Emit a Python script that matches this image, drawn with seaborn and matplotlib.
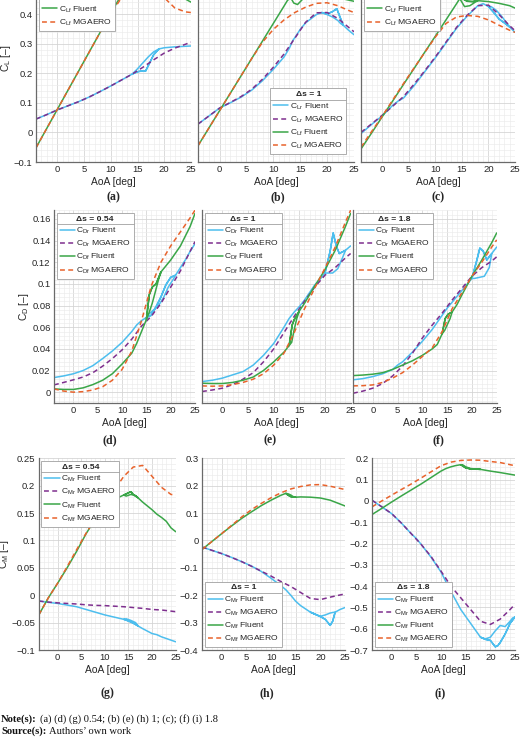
import numpy as np
import pandas as pd
import matplotlib
matplotlib.use("Agg")
import matplotlib.pyplot as plt
import seaborn as sns
from matplotlib.lines import Line2D
from matplotlib.ticker import MultipleLocator, FuncFormatter

# ---------------- data ----------------
aoa = [-4, -2, 0, 2, 4, 6, 8, 10, 12, 14, 16, 18, 20, 22, 24, 25]

# (a) CL, ds = 0.54
a_rM = [0.045, 0.060, 0.076, 0.090, 0.104, 0.120, 0.138, 0.157, 0.177, 0.197, 0.220, 0.245, 0.268, 0.285, 0.298, 0.305]
a_fM = [-0.052, 0.013, 0.078, 0.143, 0.208, 0.273, 0.338, 0.400, 0.455, 0.500, 0.520, 0.500, 0.455, 0.420, 0.407, 0.405]
a_fF = [-0.052, 0.013, 0.078, 0.143, 0.208, 0.273, 0.338, 0.403, 0.465, 0.510, 0.530, 0.520, 0.500, 0.475, 0.450, 0.440]
a_rF_x = [-4, -2, 0, 2, 4, 6, 8, 10, 12, 14, 15, 16, 16.5, 17, 18, 19, 20, 22, 24, 25]
a_rF_y = [0.045, 0.060, 0.076, 0.090, 0.104, 0.120, 0.138, 0.157, 0.177, 0.197, 0.205, 0.208, 0.207, 0.225, 0.262, 0.282, 0.286, 0.289, 0.291, 0.292]
a_rF_bx = [18, 17, 16, 15]
a_rF_by = [0.272, 0.255, 0.235, 0.215]

# (b) CL, ds = 1
b_rM = [0.028, 0.055, 0.082, 0.101, 0.121, 0.146, 0.180, 0.220, 0.265, 0.318, 0.372, 0.404, 0.405, 0.385, 0.355, 0.340]
b_fM = [-0.045, 0.014, 0.073, 0.132, 0.191, 0.250, 0.305, 0.348, 0.380, 0.405, 0.423, 0.436, 0.438, 0.428, 0.412, 0.405]
b_rF_x = [-4, -2, 0, 2, 4, 6, 8, 10, 12, 13, 13.6, 14, 15, 16, 18, 19, 20, 21, 21.8, 22.5, 23, 24, 25]
b_rF_y = [0.028, 0.055, 0.082, 0.100, 0.119, 0.143, 0.175, 0.213, 0.255, 0.285, 0.310, 0.320, 0.348, 0.370, 0.398, 0.405, 0.400, 0.408, 0.418, 0.385, 0.362, 0.345, 0.330]
b_rF_bx = [22.5, 22, 21, 20]
b_rF_by = [0.368, 0.378, 0.390, 0.398]
b_fF_x = [-4, -2, 0, 2, 4, 6, 8, 10, 12, 12.6, 13.2, 13.8, 14.5, 15.3, 16, 18, 20, 22, 24, 25]
b_fF_y = [-0.045, 0.014, 0.073, 0.132, 0.191, 0.250, 0.309, 0.368, 0.427, 0.445, 0.456, 0.437, 0.432, 0.447, 0.465, 0.475, 0.465, 0.455, 0.447, 0.443]

# (c) CL, ds = 1.8
c_rM = [0.000, 0.029, 0.058, 0.089, 0.121, 0.163, 0.208, 0.255, 0.305, 0.355, 0.396, 0.428, 0.430, 0.398, 0.360, 0.344]
c_fM = [-0.050, 0.003, 0.055, 0.110, 0.165, 0.218, 0.270, 0.322, 0.368, 0.390, 0.395, 0.392, 0.380, 0.362, 0.345, 0.338]
c_rF_x = [-4, -2, 0, 2, 3, 4, 6, 8, 10, 12, 14, 16, 18, 19, 20, 21, 22, 23, 24, 25]
c_rF_y = [-0.004, 0.027, 0.056, 0.092, 0.106, 0.116, 0.158, 0.205, 0.252, 0.302, 0.352, 0.393, 0.428, 0.435, 0.425, 0.405, 0.383, 0.370, 0.356, 0.338]
c_rF_bx = [23.5, 22.5, 21.5, 20.5]
c_rF_by = [0.368, 0.392, 0.412, 0.425]
c_fF_x = [-4, -2, 0, 2, 4, 6, 8, 10, 12, 14, 14.6, 15.3, 16, 17, 18, 20, 22, 24, 25]
c_fF_y = [-0.056, -0.002, 0.053, 0.107, 0.162, 0.216, 0.271, 0.325, 0.380, 0.435, 0.452, 0.450, 0.443, 0.442, 0.445, 0.442, 0.436, 0.428, 0.420]
c_fF_bx = [17.5, 16.5, 15.5, 15]
c_fF_by = [0.440, 0.428, 0.425, 0.440]

# (d) CD, ds = 0.54
d_rM = [0.0067, 0.009, 0.0114, 0.014, 0.018, 0.024, 0.031, 0.039, 0.049, 0.061, 0.070, 0.082, 0.097, 0.112, 0.130, 0.139]
d_fM = [0.003, 0.001, 0.0, 0.0005, 0.002, 0.005, 0.011, 0.021, 0.038, 0.066, 0.098, 0.120, 0.135, 0.148, 0.161, 0.168]
d_rF_x = [-4, -2, 0, 2, 4, 6, 8, 10, 12, 13, 14, 15, 16, 17, 18, 19, 20, 21, 22, 23, 24, 25]
d_rF_y = [0.0135, 0.015, 0.017, 0.020, 0.0245, 0.031, 0.038, 0.046, 0.056, 0.062, 0.066, 0.069, 0.071, 0.079, 0.088, 0.099, 0.106, 0.108, 0.115, 0.122, 0.130, 0.137]
d_rF_bx = [20.5, 19.5, 18.5, 17.5, 16.5, 15.5]
d_rF_by = [0.104, 0.097, 0.087, 0.080, 0.076, 0.072]
d_fF_x = [-4, -2, 0, 2, 4, 6, 8, 10, 11, 12, 13, 14, 15, 15.6, 16.2, 17, 18, 20, 22, 24, 25]
d_fF_y = [0.003, 0.0025, 0.0025, 0.004, 0.007, 0.011, 0.017, 0.026, 0.031, 0.036, 0.045, 0.056, 0.067, 0.090, 0.097, 0.100, 0.111, 0.122, 0.135, 0.153, 0.165]
d_fF_bx = [17.5, 16.8, 16.2, 15.6]
d_fF_by = [0.104, 0.092, 0.082, 0.074]

# (e) CD, ds = 1
e_rM = [0.0006, 0.002, 0.0037, 0.007, 0.012, 0.018, 0.028, 0.040, 0.055, 0.070, 0.084, 0.097, 0.108, 0.115, 0.124, 0.128]
e_fM = [0.0058, 0.0055, 0.0058, 0.007, 0.009, 0.012, 0.017, 0.025, 0.036, 0.055, 0.077, 0.096, 0.1145, 0.134, 0.157, 0.168]
e_rF_x = [-4, -2, 0, 2, 4, 6, 8, 10, 12, 13, 14, 15, 16, 18, 19, 20, 21, 21.6, 22.2, 22.8, 24, 25]
e_rF_y = [0.0098, 0.011, 0.013, 0.016, 0.019, 0.025, 0.034, 0.045, 0.060, 0.068, 0.074, 0.079, 0.085, 0.099, 0.104, 0.110, 0.130, 0.147, 0.135, 0.128, 0.131, 0.135]
e_rF_bx = [23.5, 22.5, 21.5, 20.5]
e_rF_by = [0.125, 0.114, 0.110, 0.110]
e_fF_x = [-4, -2, 0, 2, 4, 6, 8, 10, 12, 13, 13.6, 14, 15, 16, 18, 20, 22, 24, 25]
e_fF_y = [0.0083, 0.008, 0.008, 0.009, 0.011, 0.014, 0.020, 0.028, 0.037, 0.043, 0.062, 0.067, 0.075, 0.082, 0.098, 0.113, 0.131, 0.153, 0.165]
e_fF_bx = [14.5, 14, 13.5]
e_fF_by = [0.068, 0.058, 0.046]

# (f) CD, ds = 1.8
f_rM = [-0.001, 0.001, 0.0037, 0.008, 0.015, 0.024, 0.036, 0.050, 0.062, 0.073, 0.085, 0.096, 0.107, 0.115, 0.121, 0.125]
f_fM = [0.0058, 0.006, 0.0067, 0.009, 0.013, 0.018, 0.025, 0.033, 0.041, 0.056, 0.077, 0.092, 0.107, 0.120, 0.134, 0.1406]
f_rF_x = [-4, -2, 0, 2, 4, 5, 6, 8, 10, 12, 14, 15, 16, 18, 20, 21, 21.6, 22.3, 23, 24, 25]
f_rF_y = [0.0114, 0.0125, 0.0144, 0.017, 0.021, 0.025, 0.028, 0.037, 0.047, 0.058, 0.071, 0.0776, 0.083, 0.094, 0.105, 0.122, 0.133, 0.130, 0.122, 0.128, 0.134]
f_rF_bx = [23.5, 22.5, 21.5, 20.5]
f_rF_by = [0.115, 0.107, 0.106, 0.105]
f_fF_x = [-4, -2, 0, 2, 4, 6, 8, 10, 12, 13, 14, 14.6, 15.2, 16, 17, 18, 20, 22, 24, 25]
f_fF_y = [0.0153, 0.0158, 0.0166, 0.018, 0.021, 0.025, 0.029, 0.034, 0.040, 0.044, 0.054, 0.068, 0.072, 0.074, 0.081, 0.090, 0.107, 0.122, 0.138, 0.147]
f_fF_bx = [15.6, 15, 14.5]
f_fF_by = [0.068, 0.062, 0.057]

# (g) CM, ds = 0.54
g_rM = [-0.0106, -0.0125, -0.014, -0.015, -0.016, -0.0175, -0.0185, -0.019, -0.020, -0.021, -0.0225, -0.024, -0.026, -0.027, -0.029, -0.030]
g_fM = [-0.036, -0.005, 0.022, 0.052, 0.083, 0.113, 0.140, 0.168, 0.192, 0.217, 0.234, 0.237, 0.217, 0.197, 0.184, 0.183]
g_rF_x = [-4, -2, 0, 2, 4, 6, 8, 10, 12, 14, 15, 16, 17, 18, 20, 21, 22, 24, 25]
g_rF_y = [-0.0106, -0.013, -0.015, -0.018, -0.021, -0.026, -0.031, -0.036, -0.040, -0.044, -0.047, -0.051, -0.056, -0.061, -0.070, -0.072, -0.076, -0.082, -0.085]
g_rF_bx = [16.5, 15.5, 14.5]
g_rF_by = [-0.050, -0.046, -0.043]
g_fF_x = [-4, -2, 0, 2, 4, 6, 8, 10, 12, 14, 15, 15.5, 16, 17, 18, 20, 21, 22, 23, 24, 25]
g_fF_y = [-0.036, -0.005, 0.022, 0.050, 0.080, 0.112, 0.140, 0.162, 0.175, 0.183, 0.187, 0.189, 0.184, 0.178, 0.170, 0.156, 0.148, 0.142, 0.135, 0.123, 0.116]
g_fF_bx = [16.5, 15.5, 14.5]
g_fF_by = [0.182, 0.184, 0.181]

# (h) CM, ds = 1
h_rM = [-0.024, -0.036, -0.048, -0.062, -0.077, -0.094, -0.112, -0.130, -0.150, -0.168, -0.190, -0.212, -0.216, -0.207, -0.199, -0.195]
h_fM = [-0.033, -0.004, 0.025, 0.055, 0.085, 0.112, 0.135, 0.156, 0.174, 0.188, 0.197, 0.203, 0.204, 0.198, 0.190, 0.186]
h_rF_x = [-4, -2, 0, 2, 4, 6, 8, 10, 12, 13, 14, 15, 16, 18, 20, 21, 22, 22.5, 23, 24, 25]
h_rF_y = [-0.024, -0.036, -0.048, -0.062, -0.077, -0.093, -0.113, -0.138, -0.165, -0.180, -0.200, -0.222, -0.238, -0.262, -0.278, -0.288, -0.310, -0.295, -0.262, -0.252, -0.245]
h_rF_bx = [22.5, 22, 21, 20]
h_rF_by = [-0.263, -0.265, -0.272, -0.277]
h_fF_x = [-4, -2, 0, 2, 4, 6, 8, 10, 12, 13, 13.5, 14, 15, 16, 18, 20, 22, 24, 25]
h_fF_y = [-0.033, -0.004, 0.025, 0.053, 0.080, 0.104, 0.127, 0.147, 0.165, 0.172, 0.165, 0.160, 0.158, 0.159, 0.158, 0.155, 0.147, 0.133, 0.126]
h_fF_bx = [14.5, 14, 13.5]
h_fF_by = [0.160, 0.166, 0.170]

# (i) CM, ds = 1.8
i_rM = [0.003, -0.028, -0.060, -0.105, -0.155, -0.205, -0.262, -0.330, -0.400, -0.455, -0.510, -0.565, -0.580, -0.555, -0.510, -0.485]
i_fM = [-0.028, 0.000, 0.027, 0.054, 0.080, 0.108, 0.137, 0.165, 0.182, 0.190, 0.192, 0.191, 0.185, 0.180, 0.170, 0.165]
i_rF_x = [-4, -2, 0, 2, 3, 4, 5, 6, 8, 10, 11, 12, 14, 16, 18, 19, 20, 21, 21.5, 22, 23, 24, 25]
i_rF_y = [0.003, -0.028, -0.060, -0.105, -0.130, -0.155, -0.177, -0.205, -0.265, -0.334, -0.380, -0.425, -0.510, -0.575, -0.640, -0.650, -0.655, -0.685, -0.680, -0.665, -0.625, -0.575, -0.545]
i_rF_bx = [24.5, 24, 23, 22, 21, 20, 19]
i_rF_by = [-0.550, -0.565, -0.590, -0.585, -0.610, -0.640, -0.648]
i_fF_x = [-4, -2, 0, 2, 4, 6, 8, 10, 11, 12, 13, 14, 15, 16, 18, 20, 22, 24, 25]
i_fF_y = [-0.064, -0.035, -0.005, 0.024, 0.052, 0.080, 0.110, 0.140, 0.152, 0.160, 0.166, 0.170, 0.155, 0.150, 0.148, 0.140, 0.133, 0.125, 0.121]
i_fF_bx = [16, 15, 14.5]
i_fF_by = [0.152, 0.160, 0.168]

delta_s = ["0.54", "1", "1.8"]
coef_names = ["L", "D", "M"]
panel_tags = ["(a)", "(b)", "(c)", "(d)", "(e)", "(f)", "(g)", "(h)", "(i)"]
note_text = "(a) (d) (g) 0.54; (b) (e) (h) 1; (c); (f) (i) 1.8"
source_text = "Authors\u2019 own work"


def hysteresis(x, y, bx=None, by=None):
    # forward branch, back along the other branch, then on again
    if bx is None:
        return list(x), list(y)
    hi = next(k for k, v in enumerate(x) if v > bx[0])
    lo = max(k for k, v in enumerate(x) if v < bx[-1])
    return x[:hi + 1] + bx + x[lo:], y[:hi + 1] + by + y[lo:]


panels = [
    (hysteresis(a_rF_x, a_rF_y, a_rF_bx, a_rF_by), a_rM, hysteresis(aoa, a_fF), a_fM),
    (hysteresis(b_rF_x, b_rF_y, b_rF_bx, b_rF_by), b_rM, hysteresis(b_fF_x, b_fF_y), b_fM),
    (hysteresis(c_rF_x, c_rF_y, c_rF_bx, c_rF_by), c_rM, hysteresis(c_fF_x, c_fF_y, c_fF_bx, c_fF_by), c_fM),
    (hysteresis(d_rF_x, d_rF_y, d_rF_bx, d_rF_by), d_rM, hysteresis(d_fF_x, d_fF_y, d_fF_bx, d_fF_by), d_fM),
    (hysteresis(e_rF_x, e_rF_y, e_rF_bx, e_rF_by), e_rM, hysteresis(e_fF_x, e_fF_y, e_fF_bx, e_fF_by), e_fM),
    (hysteresis(f_rF_x, f_rF_y, f_rF_bx, f_rF_by), f_rM, hysteresis(f_fF_x, f_fF_y, f_fF_bx, f_fF_by), f_fM),
    (hysteresis(g_rF_x, g_rF_y, g_rF_bx, g_rF_by), g_rM, hysteresis(g_fF_x, g_fF_y, g_fF_bx, g_fF_by), g_fM),
    (hysteresis(h_rF_x, h_rF_y, h_rF_bx, h_rF_by), h_rM, hysteresis(h_fF_x, h_fF_y, h_fF_bx, h_fF_by), h_fM),
    (hysteresis(i_rF_x, i_rF_y, i_rF_bx, i_rF_by), i_rM, hysteresis(i_fF_x, i_fF_y, i_fF_bx, i_fF_by), i_fM),
]

# ---------------- style ----------------
sns.set_theme(style="whitegrid")
plt.rcParams["font.family"] = ["Liberation Sans", "DejaVu Sans"]
plt.rcParams["mathtext.fontset"] = "custom"
plt.rcParams["mathtext.rm"] = "Liberation Sans"
plt.rcParams["mathtext.it"] = "Liberation Sans:italic"
plt.rcParams["mathtext.bf"] = "Liberation Sans:bold"

curves = ["rF", "rM", "fF", "fM"]
palette = {"rF": "#4dbeee", "rM": "#7e2f8e", "fF": "#3aa648", "fM": "#e8632c"}
dashes = {"rF": "", "rM": (3.2, 2.2), "fF": "", "fM": (3.2, 2.2)}
W, H = 520, 741

fig = plt.figure(figsize=(W / 100, H / 100), dpi=100)

# axes boxes in pixels: left, right, top, bottom (top row runs off the page, as in the source)
boxes = [
    (36, 191, -45.2, 162), (198, 354, -45.2, 162), (361, 515, -45.2, 162),
    (54, 195, 210.2, 403), (202, 350.6, 210.2, 403), (353, 496.7, 210.2, 403),
    (38.8, 175.7, 458.3, 650), (202, 345, 458.3, 650), (372, 515, 458.3, 650),
]
ylims = [(-0.1, 0.6)] * 3 + [(-0.01, 0.168)] * 3 + [(-0.1, 0.25), (-0.4, 0.3), (-0.7, 0.2)]
ymajor = [0.1] * 3 + [0.02] * 3 + [0.05, 0.1, 0.1]
leg_loc = ["upper left", "lower right", "upper left",
           "upper left", "upper left", "upper left",
           "upper left", "lower left", "lower left"]
leg_pad = [0.3, 0.9, 0.3, 0.3, 0.3, 0.3, 0.3, 0.3, 0.3]
tag_x = [113, 278, 438, 110, 270, 438, 107, 267, 440]
tag_y = [197, 197, 197, 440, 440, 440, 693, 693, 693]

fmt = FuncFormatter(lambda v, p: f"{round(v, 6):g}".replace("-", "\u2212"))

axes = []
for k, (l, r, t, b) in enumerate(boxes):
    ax = fig.add_axes([l / W, 1 - b / H, (r - l) / W, (b - t) / H])
    axes.append(ax)
    row, col = divmod(k, 3)
    rF, rM, fF, fM = panels[k]
    df = pd.concat([
        pd.DataFrame({"aoa": rF[0], "coef": rF[1], "curve": "rF"}),
        pd.DataFrame({"aoa": aoa, "coef": rM, "curve": "rM"}),
        pd.DataFrame({"aoa": fF[0], "coef": fF[1], "curve": "fF"}),
        pd.DataFrame({"aoa": aoa, "coef": fM, "curve": "fM"}),
    ], ignore_index=True)
    sns.lineplot(data=df, x="aoa", y="coef", hue="curve", style="curve",
                 hue_order=curves, style_order=curves, palette=palette,
                 dashes=dashes, sort=False, estimator=None, linewidth=1.1,
                 legend=False, ax=ax)

    ax.set_xlim(-4, 25)
    ax.set_ylim(*ylims[k])
    ax.xaxis.set_major_locator(MultipleLocator(5))
    ax.xaxis.set_minor_locator(MultipleLocator(1))
    ax.yaxis.set_major_locator(MultipleLocator(ymajor[k]))
    ax.yaxis.set_minor_locator(MultipleLocator(ymajor[k] / 5))
    ax.xaxis.set_major_formatter(fmt)
    ax.yaxis.set_major_formatter(fmt)
    ax.set_axisbelow(True)
    ax.grid(which="major", color="#d2d2d2", linewidth=0.55)
    ax.grid(which="minor", color="#ebebeb", linewidth=0.45)
    for s in ["top", "right"]:
        ax.spines[s].set_visible(False)
    for s in ["left", "bottom"]:
        ax.spines[s].set_color("#6a6a6a")
        ax.spines[s].set_linewidth(0.9)
    ax.tick_params(which="both", direction="in", color="#6a6a6a", width=0.5,
                   labelsize=6.8, labelcolor="#262626", pad=2.5)
    ax.tick_params(which="major", length=2.5)
    ax.tick_params(which="minor", length=1.3)
    ax.set_xlabel("AoA [deg]", fontsize=7.4, color="#262626", labelpad=1.5)
    if col == 0:
        ax.set_ylabel(f"C$_{{\\rm {coef_names[row]}}}$ [\u2013]", fontsize=7.4,
                      color="#262626", labelpad=0.5)
    else:
        ax.set_ylabel("")
    if row < 2 and col > 0:
        ax.tick_params(labelleft=False)

    c = coef_names[row]
    labels = [f"C$_{{\\rm {c}r}}$ Fluent", f"C$_{{\\rm {c}r}}$ MGAERO",
              f"C$_{{\\rm {c}f}}$ Fluent", f"C$_{{\\rm {c}f}}$ MGAERO"]
    handles = []
    for n in curves:
        h_ = Line2D([0], [0], color=palette[n], lw=1.1)
        if dashes[n]:
            h_.set_dashes(dashes[n])
        handles.append(h_)
    leg_kw = dict(loc=leg_loc[k], borderaxespad=leg_pad[k])
    if row == 0 and col != 1:
        # top-row legends sit a little lower and run off the page top
        leg_kw = dict(loc="upper left", bbox_to_anchor=(3 / (r - l), 1 - 10 / (b - t)),
                      borderaxespad=0)
    leg = ax.legend(handles, labels, title=f"\u0394s = {delta_s[col]}",
                    fontsize=6.1, title_fontsize=6.1, frameon=True, fancybox=False,
                    framealpha=1, edgecolor="#a0a0a0", borderpad=0.35,
                    labelspacing=0.36, handlelength=1.8, handletextpad=0.2,
                    **leg_kw)
    leg.get_title().set_fontweight("bold")
    leg.get_frame().set_linewidth(0.6)

    fig.text(tag_x[k] / W, 1 - tag_y[k] / H, panel_tags[k], ha="center", va="center",
             family="Liberation Serif", weight="bold", fontsize=8.5)

# line under each legend title, as in the source figure
fig.canvas.draw()
for ax in axes:
    leg = ax.get_legend()
    fb = leg.get_frame().get_window_extent()
    tb = leg.get_title().get_window_extent()
    yl = tb.y0 - 1.5
    fig.add_artist(Line2D([fb.x0 / W, fb.x1 / W], [yl / H, yl / H],
                          transform=fig.transFigure, color="#a0a0a0", lw=0.6))

serif = dict(family="Liberation Serif", fontsize=7.6, va="center", color="#111111")
t1 = fig.text(0.002, 1 - 719 / H, "Note(s):", weight="bold", **serif)
t2 = fig.text(0.002, 1 - 731 / H, "Source(s):", weight="bold", **serif)
fig.canvas.draw()
for tb_, txt, yy in [(t1, note_text, 719), (t2, source_text, 731)]:
    bb = tb_.get_window_extent()
    fig.text((bb.x1 + 3) / W, 1 - yy / H, txt, **serif)

fig.savefig("out.png", dpi=100)
